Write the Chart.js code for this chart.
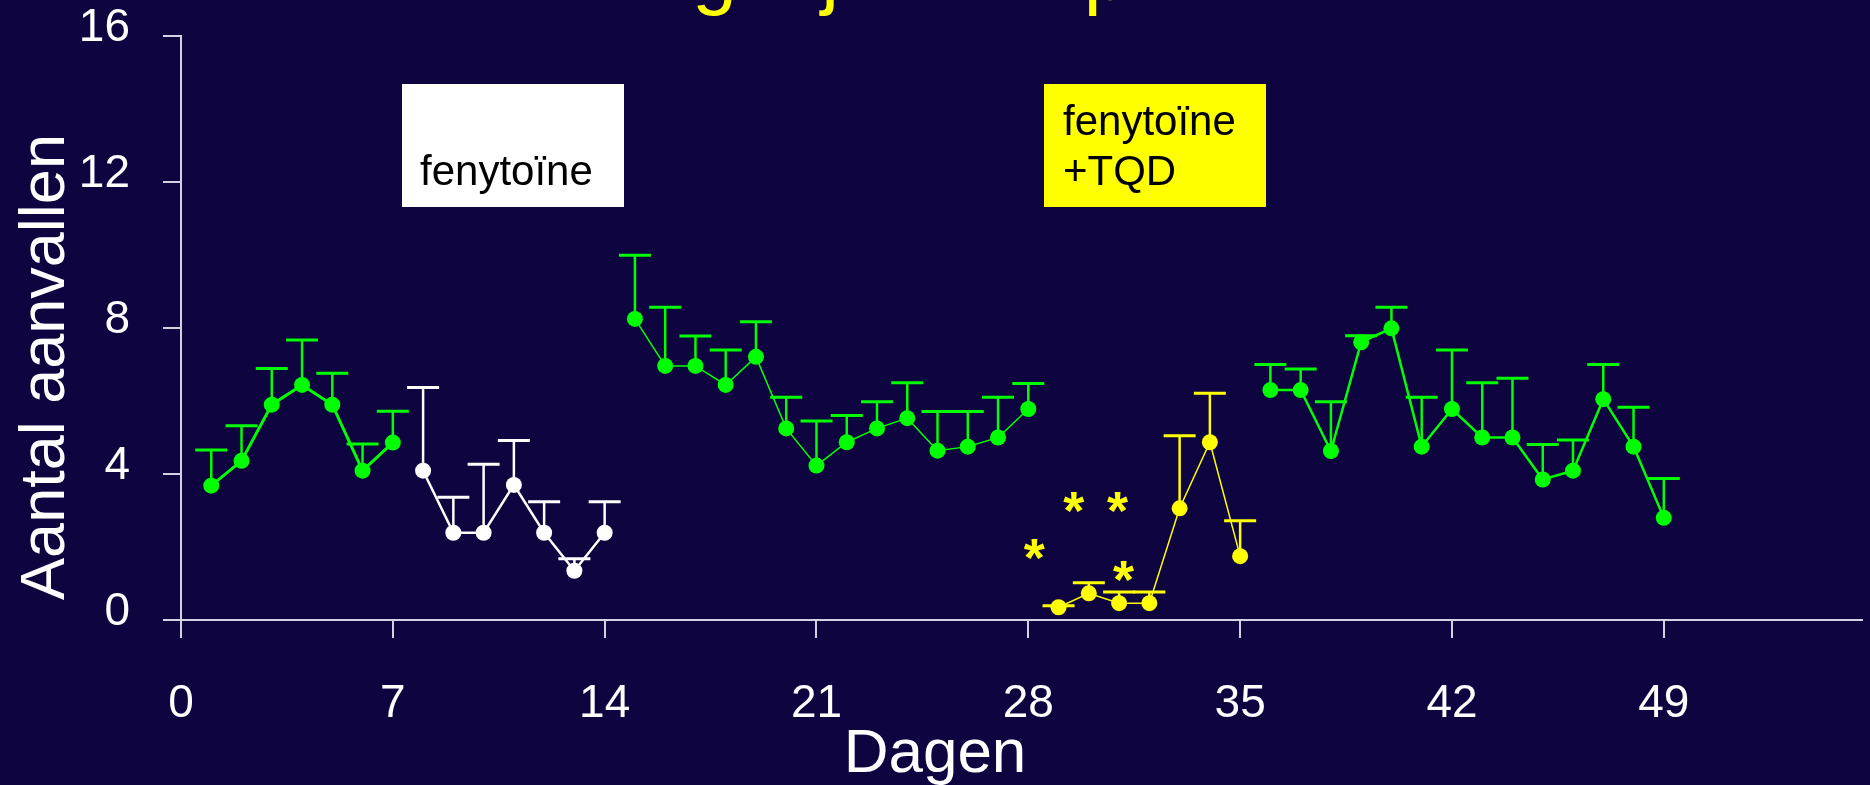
<!DOCTYPE html>
<html lang="nl">
<head>
  <meta charset="utf-8">
  <title>Aantal aanvallen</title>
  <style>
    html, body { margin: 0; padding: 0; background: #0e0440; }
    #wrap { width: 1870px; height: 785px; }
  </style>
</head>
<body>
<div id="wrap"><canvas id="seizureChart" width="1870" height="785"></canvas></div>
<script src="https://cdn.jsdelivr.net/npm/chart.js"></script>
<script>

   // ---- data ----
   const xTicks = [0, 7, 14, 21, 28, 35, 42, 49];
   const yTicks = [0, 4, 8, 12, 16];

   const baseDays1 = [1, 2, 3, 4, 5, 6, 7];
   const baseMean1 = [3.68, 4.36, 5.90, 6.44, 5.90, 4.09, 4.86];
   const baseErr1  = [0.98, 0.96, 0.99, 1.23, 0.86, 0.73, 0.86];

   const fenDays = [8, 9, 10, 11, 12, 13, 14];
   const fenMean = [4.09, 2.39, 2.39, 3.70, 2.39, 1.35, 2.39];
   const fenErr  = [2.28, 0.97, 1.88, 1.22, 0.85, 0.33, 0.85];

   const baseDays2 = [15, 16, 17, 18, 19, 20, 21, 22, 23, 24, 25, 26, 27, 28];
   const baseMean2 = [8.25, 6.96, 6.96, 6.44, 7.21, 5.25, 4.23, 4.87, 5.25, 5.53, 4.64, 4.75, 5.00, 5.78];
   const baseErr2  = [1.74, 1.61, 0.82, 0.96, 0.96, 0.85, 1.22, 0.73, 0.73, 0.97, 1.07, 0.96, 1.10, 0.70];

   const tqdDays = [29, 30, 31, 32, 33, 34, 35];
   const tqdMean = [0.35, 0.73, 0.46, 0.46, 3.06, 4.87, 1.75];
   const tqdErr  = [0.04, 0.29, 0.31, 0.31, 1.99, 1.34, 0.97];

   const baseDays3 = [36, 37, 38, 39, 40, 41, 42, 43, 44, 45, 46, 47, 48, 49];
   const baseMean3 = [6.30, 6.30, 4.63, 7.61, 7.99, 4.75, 5.78, 5.00, 5.00, 3.85, 4.09, 6.05, 4.75, 2.80];
   const baseErr3  = [0.70, 0.58, 1.35, 0.18, 0.58, 1.35, 1.62, 1.50, 1.62, 0.96, 0.84, 0.95, 1.08, 1.08];

   // significance stars (day, value)
   const starDays = [28.2, 29.5, 30.95, 31.15];
   const starVals = [1.92, 3.21, 3.21, 1.32];

   const GREEN = '#00ff00';
   const WHITE = '#ffffff';
   const YELLOW = '#ffff00';
   const BG = '#0e0440';
   const AXIS = '#d4d2e2';
   const FONT = "'Liberation Sans', Arial, Helvetica, sans-serif";

   function makeSet(days, mean, err, color, width){
      return {
         data: days.map((d, i) => ({ x: d, y: mean[i], err: err[i] })),
         borderColor: color,
         backgroundColor: color,
         borderWidth: width,
         pointRadius: 8,
         pointHoverRadius: 8,
         pointBorderWidth: 0,
         tension: 0,
         errColor: color
      };
   }

   const datasets = [
      makeSet(baseDays1, baseMean1, baseErr1, GREEN, 3),
      makeSet(fenDays, fenMean, fenErr, WHITE, 2.5),
      makeSet(baseDays2, baseMean2, baseErr2, GREEN, 1.5),
      makeSet(tqdDays, tqdMean, tqdErr, YELLOW, 1.5),
      makeSet(baseDays3, baseMean3, baseErr3, GREEN, 2.5)
   ];

   const slidePlugin = {
      id: 'slide',
      beforeDraw(chart){
         const ctx = chart.ctx;
         ctx.save();
         ctx.fillStyle = BG;
         ctx.fillRect(0, 0, chart.width, chart.height);
         ctx.restore();
      },
      beforeDatasetsDraw(chart){
         // error bars: stem up from the mean, cap on top
         const ctx = chart.ctx;
         const xs = chart.scales.x, ys = chart.scales.y;
         ctx.save();
         chart.data.datasets.forEach(ds => {
            ctx.strokeStyle = ds.errColor;
            ds.data.forEach(p => {
               const px = xs.getPixelForValue(p.x);
               const py = ys.getPixelForValue(p.y);
               const pt = ys.getPixelForValue(p.y + p.err);
               ctx.lineWidth = 2.5;
               ctx.beginPath();
               ctx.moveTo(px, py);
               ctx.lineTo(px, pt);
               ctx.stroke();
               ctx.lineWidth = 3;
               ctx.beginPath();
               ctx.moveTo(px - 16, pt);
               ctx.lineTo(px + 16, pt);
               ctx.stroke();
            });
         });
         ctx.restore();
      },
      afterDraw(chart){
         const ctx = chart.ctx;
         const xs = chart.scales.x, ys = chart.scales.y;
         ctx.save();

         // title, almost entirely above the visible area
         ctx.fillStyle = YELLOW;
         ctx.font = '80px ' + FONT;
         ctx.textAlign = 'left';
         ctx.textBaseline = 'alphabetic';
         ctx.fillText('Behandeling bij hond: patiënt', 292, -1);

         // treatment boxes
         ctx.fillStyle = WHITE;
         ctx.fillRect(402, 84, 222, 123);
         ctx.fillStyle = YELLOW;
         ctx.fillRect(1044, 84, 222, 123);
         ctx.fillStyle = '#000000';
         ctx.font = '42px ' + FONT;
         ctx.fillText('fenytoïne', 420, 185);
         ctx.fillText('fenytoïne', 1063, 135);
         ctx.fillText('+TQD', 1063, 185);

         // stars
         ctx.fillStyle = YELLOW;
         ctx.font = 'bold 54px ' + FONT;
         ctx.textAlign = 'center';
         const m = ctx.measureText('*');
         const shift = (m.actualBoundingBoxAscent - m.actualBoundingBoxDescent) / 2;
         starDays.forEach((d, i) => {
            ctx.fillText('*', xs.getPixelForValue(d), ys.getPixelForValue(starVals[i]) + shift);
         });

         // axis titles
         ctx.fillStyle = WHITE;
         ctx.font = '62px ' + FONT;
         ctx.textAlign = 'center';
         ctx.fillText('Dagen', 935, 772);

         ctx.translate(64, 367);
         ctx.rotate(-Math.PI / 2);
         ctx.font = '63px ' + FONT;
         ctx.fillText('Aantal aanvallen', 0, 0);
         ctx.restore();
      }
   };

   const seizureChart = new Chart(document.getElementById('seizureChart'), {
      type: 'line',
      data: { datasets: datasets },
      plugins: [slidePlugin],
      options: {
         responsive: false,
         animation: false,
         events: [],
         layout: { padding: { top: 36, right: 0, left: 0, bottom: 0 } },
         plugins: {
            legend: { display: false },
            tooltip: { enabled: false },
            title: { display: false }
         },
         scales: {
            x: {
               type: 'linear',
               min: 0,
               max: 55.55,
               afterBuildTicks: s => { s.ticks = xTicks.map(v => ({ value: v })); },
               afterFit: s => { s.height = 165; s.paddingLeft = 0; s.paddingRight = 0; },
               grid: { drawOnChartArea: false, drawTicks: true, tickLength: 18, color: AXIS, lineWidth: 2 },
               border: { display: true, color: AXIS, width: 2 },
               ticks: { color: WHITE, font: { family: FONT, size: 46 }, padding: 39, maxRotation: 0 }
            },
            y: {
               type: 'linear',
               min: 0,
               max: 16,
               afterBuildTicks: s => { s.ticks = yTicks.map(v => ({ value: v })); },
               afterFit: s => { s.width = 181; s.paddingTop = 0; s.paddingBottom = 0; },
               grid: { drawOnChartArea: false, drawTicks: true, tickLength: 18, color: AXIS, lineWidth: 2 },
               border: { display: true, color: AXIS, width: 2 },
               ticks: {
                  color: WHITE,
                  font: { family: FONT, size: 46, lineHeight: '16px' },
                  padding: 33,
                  callback: v => [String(v), '']
               }
            }
         }
      }
   });

</script>
</body>
</html>
